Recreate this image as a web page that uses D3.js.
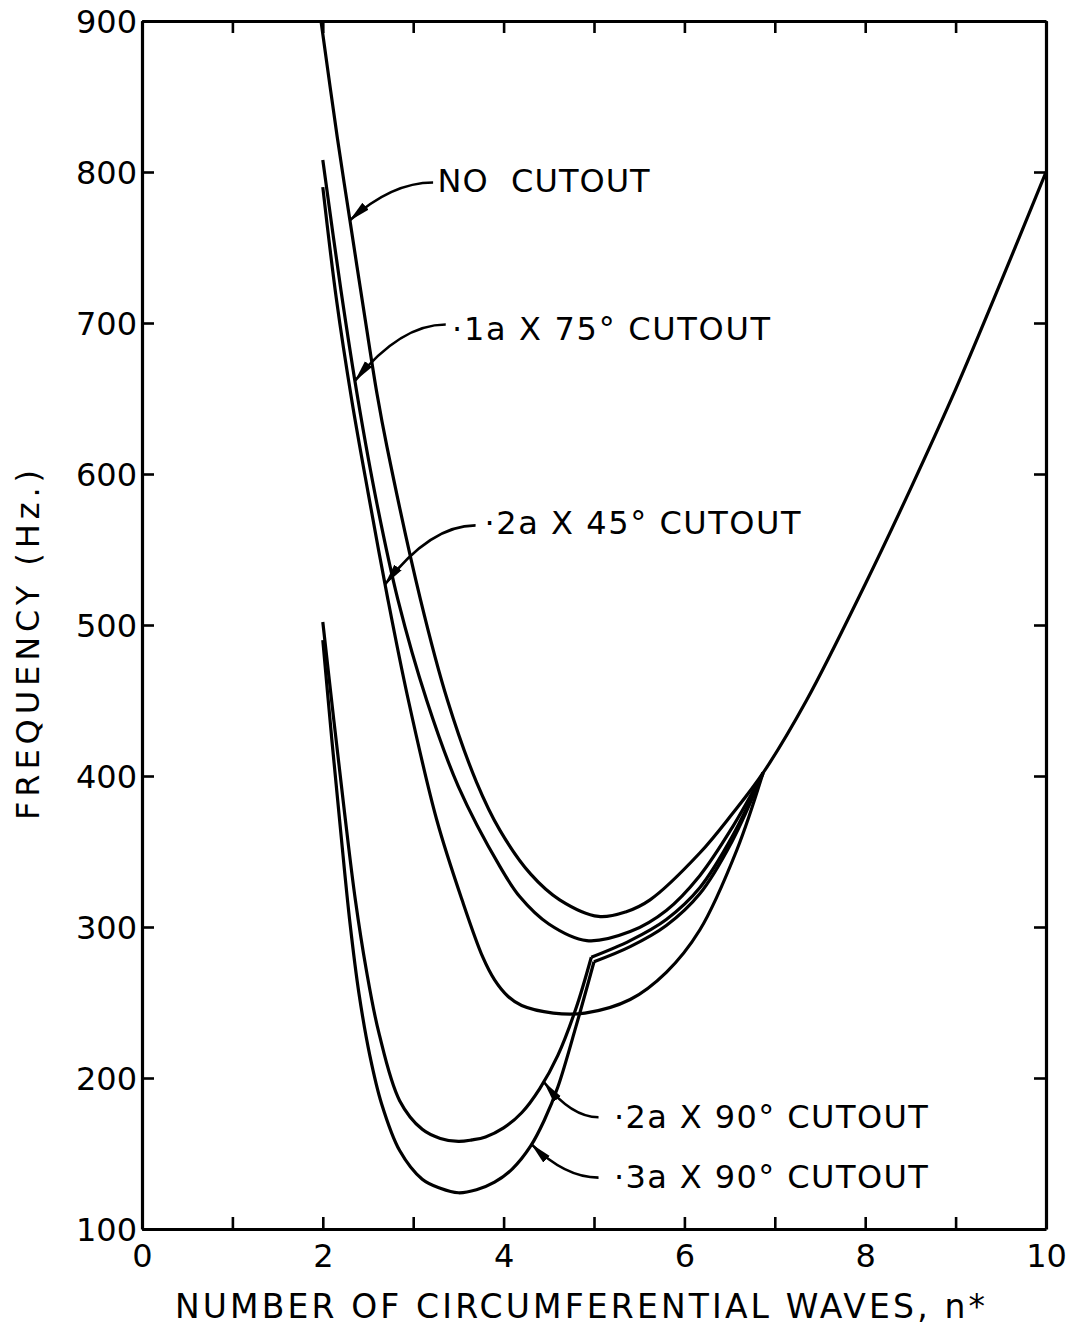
<!DOCTYPE html>
<html>
<head>
<meta charset="utf-8">
<script src="https://cdn.jsdelivr.net/npm/d3@7"></script>
<style>
  body { margin: 0; background: #fff; }
  svg { display: block; }
  text { font-family: "DejaVu Sans", sans-serif; fill: #000; }
</style>
</head>
<body>
<div id="chart"></div>
<script>
// ---- data (n = circumferential waves, Hz = frequency) ----

// no cutout
const noCutN  = [1.98, 2.16, 2.3, 2.47, 2.6, 2.71, 3.08, 3.38, 3.7, 3.96, 4.3, 4.62, 5.05, 5.35, 5.62, 6.17, 6.53, 6.87, 7.35, 8.0, 8.5, 9.0, 9.5, 10.0];
const noCutHz = [900, 823, 768, 702, 653, 618, 517, 450, 396, 364, 335, 318, 307, 310, 318, 349, 375, 402, 450, 527, 590, 656, 727, 800];

// .1a x 75 deg cutout
const cut75N  = [2.0, 2.2, 2.39, 2.6, 2.83, 3.15, 3.5, 3.96, 4.18, 4.5, 4.92, 5.4, 5.8, 6.17, 6.53, 6.87];
const cut75Hz = [808, 722, 649, 580, 517, 450, 393, 340, 320, 302, 291, 297, 311, 334, 366, 402];

// .2a x 45 deg cutout
const cut45N  = [2.0, 2.15, 2.32, 2.5, 2.72, 2.94, 3.26, 3.54, 3.77, 3.9, 4.05, 4.2, 4.55, 4.9, 5.4, 5.8, 6.17, 6.58, 6.87];
const cut45Hz = [790, 716, 649, 588, 517, 452, 371, 318, 280, 265, 254, 248, 243, 243, 252, 270, 298, 351, 402];

// .2a x 90 deg cutout (kink at n = 5)
const cut2a90N  = [2.0, 2.12, 2.24, 2.36, 2.48, 2.62, 2.85, 3.1, 3.3, 3.5, 3.65, 3.8, 4.0, 4.2, 4.4, 4.6, 4.8, 4.97, 5.4, 5.8, 6.17, 6.53, 6.87];
const cut2a90Hz = [502, 438, 376, 318, 272, 230, 185, 166, 160, 158, 159, 161, 167, 177, 193, 215, 246, 280, 291, 305, 326, 360, 402];
const cut2a90Kink = 17;

// .3a x 90 deg cutout (kink at n = 5)
const cut3a90N  = [2.0, 2.1, 2.2, 2.3, 2.4, 2.52, 2.65, 2.85, 3.1, 3.3, 3.5, 3.7, 3.9, 4.1, 4.3, 4.45, 4.6, 4.8, 5.0, 5.4, 5.8, 6.17, 6.53, 6.87];
const cut3a90Hz = [490, 424, 362, 303, 256, 215, 183, 152, 133, 127, 124, 126, 131, 140, 155, 172, 194, 234, 277, 287, 301, 322, 357, 402];
const cut3a90Kink = 18;

const xTicks = d3.range(0, 11, 1);
const yTicks = d3.range(100, 1000, 100);

// ---- layout ----
const width = 1070, height = 1331;
const margin = {top: 21, right: 24, bottom: 102, left: 142};

const svg = d3.select("#chart").append("svg")
    .attr("width", width)
    .attr("height", height);

const x = d3.scaleLinear().domain([0, 10]).range([margin.left, width - margin.right]);
const y = d3.scaleLinear().domain([100, 900]).range([height - margin.bottom, margin.top]);

svg.append("clipPath").attr("id", "plotClip")
  .append("rect")
    .attr("x", x(0)).attr("y", y(900))
    .attr("width", x(10) - x(0)).attr("height", y(100) - y(900));

// axes, ticks pointing inward on all four sides
const tickLen = 12;
const fmtX = d => (d % 2 === 0 ? d : "");

const axB = svg.append("g").attr("transform", `translate(0,${y(100)})`)
    .call(d3.axisBottom(x).tickValues(xTicks).tickSize(-tickLen).tickSizeOuter(0).tickPadding(15).tickFormat(fmtX));
const axT = svg.append("g").attr("transform", `translate(0,${y(900)})`)
    .call(d3.axisTop(x).tickValues(xTicks).tickSize(-tickLen).tickSizeOuter(0).tickFormat(""));
const axL = svg.append("g").attr("transform", `translate(${x(0)},0)`)
    .call(d3.axisLeft(y).tickValues(yTicks).tickSize(-tickLen).tickSizeOuter(0).tickPadding(5));
const axR = svg.append("g").attr("transform", `translate(${x(10)},0)`)
    .call(d3.axisRight(y).tickValues(yTicks).tickSize(-tickLen).tickSizeOuter(0).tickFormat(""));

[axB, axT, axL, axR].forEach(g => {
    g.select(".domain").attr("stroke", "#000").attr("stroke-width", 3.2);
    g.selectAll(".tick line").attr("stroke", "#000").attr("stroke-width", 2.6);
    g.selectAll(".tick text").style("font-size", "32px").style("font-family", "DejaVu Sans, sans-serif");
});
axL.selectAll(".tick text").attr("dy", "0.36em");
axB.selectAll(".tick text").attr("dy", "0.71em");

// axis titles
svg.append("text")
    .attr("x", 580)
    .attr("y", 1318)
    .attr("text-anchor", "middle")
    .attr("textLength", 810)
    .style("font-size", "33px")
    .text("NUMBER OF CIRCUMFERENTIAL WAVES, n*");

svg.append("text")
    .attr("transform", `translate(39,645) rotate(-90)`)
    .attr("text-anchor", "middle")
    .attr("textLength", 350)
    .style("font-size", "32px")
    .text("FREQUENCY (Hz.)");

// ---- curves ----
const line = d3.line()
    .x(d => x(d[0]))
    .y(d => y(d[1]))
    .curve(d3.curveCatmullRom.alpha(0.5));

const zipSeries = (ns, hz) => ns.map((n, i) => [n, hz[i]]);

const segments = [
    zipSeries(noCutN, noCutHz),
    zipSeries(cut75N, cut75Hz),
    zipSeries(cut45N, cut45Hz),
    zipSeries(cut2a90N, cut2a90Hz).slice(0, cut2a90Kink + 1),
    zipSeries(cut2a90N, cut2a90Hz).slice(cut2a90Kink),
    zipSeries(cut3a90N, cut3a90Hz).slice(0, cut3a90Kink + 1),
    zipSeries(cut3a90N, cut3a90Hz).slice(cut3a90Kink)
];

svg.append("g").attr("clip-path", "url(#plotClip)")
  .selectAll("path")
  .data(segments)
  .enter().append("path")
    .attr("d", line)
    .attr("fill", "none")
    .attr("stroke", "#000")
    .attr("stroke-width", 3.2)
    .attr("stroke-linejoin", "miter");

// ---- labels with curved leaders ----
const labels = [
    {text: "NO  CUTOUT",        n: 3.27, hz: 787, len: 212, fromN: 3.22, fromHz: 793, toN: 2.30, toHz: 768},
    {text: "·1a X 75° CUTOUT",  n: 3.43, hz: 689, len: 318, fromN: 3.36, fromHz: 699, toN: 2.36, toHz: 662},
    {text: "·2a X 45° CUTOUT",  n: 3.79, hz: 560, len: 316, fromN: 3.69, fromHz: 566, toN: 2.69, toHz: 527},
    {text: "·2a X 90° CUTOUT",  n: 5.22, hz: 167, len: 314, fromN: 5.05, fromHz: 174, toN: 4.45, toHz: 197},
    {text: "·3a X 90° CUTOUT",  n: 5.22, hz: 127, len: 314, fromN: 5.05, fromHz: 134, toN: 4.31, toHz: 156}
];

svg.append("defs").append("marker")
    .attr("id", "arrowHead")
    .attr("markerUnits", "userSpaceOnUse")
    .attr("viewBox", "0 -5 22 10")
    .attr("refX", 21).attr("refY", 0)
    .attr("markerWidth", 22).attr("markerHeight", 10)
    .attr("orient", "auto")
  .append("path")
    .attr("d", "M0,-4.6L22,0L0,4.6Z")
    .attr("fill", "#000");

const ann = svg.append("g");

ann.selectAll(".leader")
  .data(labels)
  .enter().append("path")
    .attr("class", "leader")
    .attr("d", d => {
        const x0 = x(d.fromN), y0 = y(d.fromHz), x1 = x(d.toN), y1 = y(d.toHz);
        const cx = x1 + 0.5 * (x0 - x1);
        return `M${x0},${y0}Q${cx},${y0} ${x1},${y1}`;
    })
    .attr("fill", "none")
    .attr("stroke", "#000")
    .attr("stroke-width", 2.6)
    .attr("marker-end", "url(#arrowHead)");

ann.selectAll(".label")
  .data(labels)
  .enter().append("text")
    .attr("class", "label")
    .attr("x", d => x(d.n))
    .attr("y", d => y(d.hz))
    .attr("textLength", d => d.len)
    .style("font-size", "32px")
    .style("white-space", "pre")
    .text(d => d.text);
</script>
</body>
</html>
